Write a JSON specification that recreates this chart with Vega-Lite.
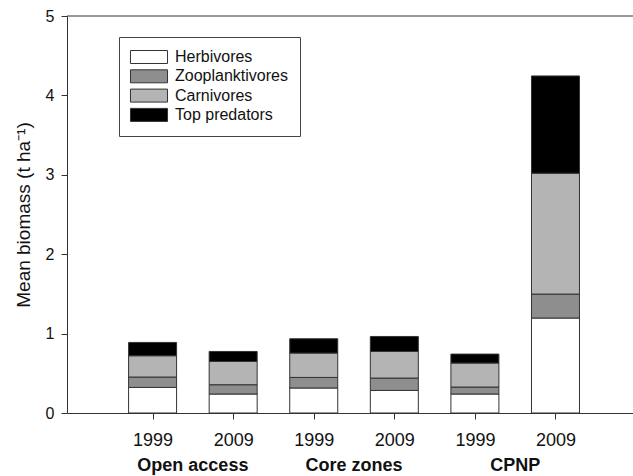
{
  "$schema": "https://vega.github.io/schema/vega-lite/v6.json",
  "width": 566,
  "height": 397,
  "autosize": {"type": "none"},
  "padding": {"left": 67, "top": 16, "right": 0, "bottom": 63},
  "background": "white",
  "config": {
    "view": {"stroke": null},
    "font": "Liberation Sans",
    "axis": {"domainColor": "#333", "tickColor": "#333", "labelColor": "#111", "titleColor": "#111", "grid": false}
  },
  "datasets": {
    "bars": [
      {"pos": 1, "site": "Open access", "year": "1999", "group": "Herbivores", "ord": 1, "value": 0.322},
      {"pos": 1, "site": "Open access", "year": "1999", "group": "Zooplanktivores", "ord": 2, "value": 0.131},
      {"pos": 1, "site": "Open access", "year": "1999", "group": "Carnivores", "ord": 3, "value": 0.268},
      {"pos": 1, "site": "Open access", "year": "1999", "group": "Top predators", "ord": 4, "value": 0.168},
      {"pos": 2, "site": "Open access", "year": "2009", "group": "Herbivores", "ord": 1, "value": 0.239},
      {"pos": 2, "site": "Open access", "year": "2009", "group": "Zooplanktivores", "ord": 2, "value": 0.117},
      {"pos": 2, "site": "Open access", "year": "2009", "group": "Carnivores", "ord": 3, "value": 0.293},
      {"pos": 2, "site": "Open access", "year": "2009", "group": "Top predators", "ord": 4, "value": 0.126},
      {"pos": 3, "site": "Core zones", "year": "1999", "group": "Herbivores", "ord": 1, "value": 0.315},
      {"pos": 3, "site": "Core zones", "year": "1999", "group": "Zooplanktivores", "ord": 2, "value": 0.133},
      {"pos": 3, "site": "Core zones", "year": "1999", "group": "Carnivores", "ord": 3, "value": 0.307},
      {"pos": 3, "site": "Core zones", "year": "1999", "group": "Top predators", "ord": 4, "value": 0.18},
      {"pos": 4, "site": "Core zones", "year": "2009", "group": "Herbivores", "ord": 1, "value": 0.284},
      {"pos": 4, "site": "Core zones", "year": "2009", "group": "Zooplanktivores", "ord": 2, "value": 0.156},
      {"pos": 4, "site": "Core zones", "year": "2009", "group": "Carnivores", "ord": 3, "value": 0.335},
      {"pos": 4, "site": "Core zones", "year": "2009", "group": "Top predators", "ord": 4, "value": 0.189},
      {"pos": 5, "site": "CPNP", "year": "1999", "group": "Herbivores", "ord": 1, "value": 0.239},
      {"pos": 5, "site": "CPNP", "year": "1999", "group": "Zooplanktivores", "ord": 2, "value": 0.088},
      {"pos": 5, "site": "CPNP", "year": "1999", "group": "Carnivores", "ord": 3, "value": 0.302},
      {"pos": 5, "site": "CPNP", "year": "1999", "group": "Top predators", "ord": 4, "value": 0.113},
      {"pos": 6, "site": "CPNP", "year": "2009", "group": "Herbivores", "ord": 1, "value": 1.196},
      {"pos": 6, "site": "CPNP", "year": "2009", "group": "Zooplanktivores", "ord": 2, "value": 0.302},
      {"pos": 6, "site": "CPNP", "year": "2009", "group": "Carnivores", "ord": 3, "value": 1.522},
      {"pos": 6, "site": "CPNP", "year": "2009", "group": "Top predators", "ord": 4, "value": 1.225}
    ],
    "sites": [
      {"pos": 1.5, "site": "Open access"},
      {"pos": 3.5, "site": "Core zones"},
      {"pos": 5.5, "site": "CPNP"}
    ]
  },
  "layer": [
    {
      "data": {"name": "bars"},
      "mark": {"type": "bar", "size": 48, "stroke": "#333", "strokeWidth": 1},
      "encoding": {
        "x": {
          "field": "pos", "type": "quantitative",
          "scale": {"domain": [0, 6.9], "nice": false, "zero": false},
          "axis": {
            "title": null, "values": [1, 2, 3, 4, 5, 6],
            "labelExpr": "datum.value % 2 == 1 ? '1999' : '2009'",
            "labelFontSize": 18, "tickSize": 6, "labelPadding": 12, "labelFlush": false
          }
        },
        "y": {
          "aggregate": "sum", "field": "value", "type": "quantitative", "stack": "zero",
          "scale": {"domain": [0, 5], "nice": false},
          "axis": {
            "title": "Mean biomass (t ha⁻¹)", "values": [0, 1, 2, 3, 4, 5], "format": "d",
            "labelFontSize": 16, "titleFontSize": 19, "titleFontWeight": "normal",
            "tickSize": 6, "labelPadding": 7, "titlePadding": 12
          }
        },
        "color": {
          "field": "group", "type": "nominal",
          "scale": {
            "domain": ["Herbivores", "Zooplanktivores", "Carnivores", "Top predators"],
            "range": ["#ffffff", "#8e8e8e", "#b4b4b4", "#000000"]
          },
          "legend": {
            "title": null, "orient": "none", "legendX": 52, "legendY": 21,
            "direction": "vertical",
            "symbolType": "M-2.85,-1H2.85V1H-2.85Z", "symbolSize": 169, "symbolOffset": 10,
            "symbolStrokeColor": "#333", "symbolStrokeWidth": 1, "symbolOpacity": 1,
            "labelFontSize": 16, "labelColor": "#111", "labelOffset": 18,
            "rowPadding": 1.3, "padding": 12,
            "strokeColor": "#444", "fillColor": "white"
          }
        },
        "order": {"field": "ord", "type": "quantitative"}
      }
    },
    {
      "data": {"values": [{"top": 5}]},
      "mark": {"type": "rule", "color": "#333", "strokeWidth": 1},
      "encoding": {"y": {"field": "top", "type": "quantitative"}}
    },
    {
      "data": {"name": "sites"},
      "mark": {"type": "text", "fontSize": 18, "fontWeight": "bold", "baseline": "alphabetic", "align": "center", "dy": 58, "color": "#111"},
      "encoding": {
        "x": {"field": "pos", "type": "quantitative"},
        "y": {"datum": 0},
        "text": {"field": "site"}
      }
    }
  ]
}
